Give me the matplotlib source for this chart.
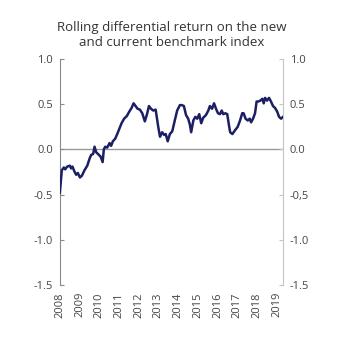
import matplotlib
matplotlib.use("Agg")
import matplotlib.pyplot as plt

plt.rcParams['font.family'] = ['Open Sans', 'DejaVu Sans']

# rolling differential return, decimal years
years = [2008.00, 2008.05, 2008.10, 2008.20, 2008.27, 2008.37, 2008.51, 2008.57,
         2008.64, 2008.75, 2008.83, 2008.91, 2009.02, 2009.12, 2009.25, 2009.39,
         2009.51, 2009.59, 2009.69, 2009.76, 2009.84, 2009.93, 2010.07, 2010.17,
         2010.23, 2010.30, 2010.40, 2010.52, 2010.60, 2010.69, 2010.81, 2010.91,
         2011.13, 2011.26, 2011.40, 2011.50, 2011.64, 2011.74, 2011.84, 2011.94,
         2012.06, 2012.18, 2012.31, 2012.42, 2012.52, 2012.62, 2012.74, 2012.86,
         2012.99, 2013.08, 2013.19, 2013.29, 2013.37, 2013.47, 2013.58, 2013.70,
         2013.84, 2013.95, 2014.09, 2014.19, 2014.29, 2014.40, 2014.51, 2014.60,
         2014.66, 2014.77, 2014.87, 2014.97, 2015.07, 2015.17, 2015.27, 2015.41,
         2015.53, 2015.61, 2015.72, 2015.82, 2015.92, 2016.02, 2016.12, 2016.21,
         2016.29, 2016.39, 2016.49, 2016.59, 2016.64, 2016.75, 2016.88, 2017.02,
         2017.14, 2017.25, 2017.32, 2017.42, 2017.53, 2017.63, 2017.70, 2017.80,
         2017.90, 2017.98, 2018.07, 2018.17, 2018.27, 2018.34, 2018.41, 2018.51,
         2018.61, 2018.71, 2018.81, 2018.91, 2019.02, 2019.12, 2019.22, 2019.32]
diff_return = [-0.48, -0.35, -0.23, -0.20, -0.22, -0.19, -0.18, -0.21,
               -0.19, -0.25, -0.28, -0.26, -0.31, -0.29, -0.23, -0.18,
               -0.10, -0.06, -0.05, 0.03, -0.03, -0.05, -0.08, -0.14,
               0.00, 0.03, 0.02, 0.07, 0.04, 0.09, 0.12, 0.17,
               0.29, 0.34, 0.37, 0.41, 0.46, 0.51, 0.48, 0.45,
               0.44, 0.40, 0.31, 0.39, 0.48, 0.45, 0.43, 0.44,
               0.25, 0.14, 0.19, 0.16, 0.17, 0.09, 0.17, 0.20,
               0.33, 0.43, 0.49, 0.49, 0.48, 0.38, 0.34, 0.27,
               0.19, 0.32, 0.36, 0.34, 0.39, 0.29, 0.35, 0.38,
               0.43, 0.48, 0.45, 0.51, 0.45, 0.40, 0.39, 0.43,
               0.39, 0.40, 0.39, 0.25, 0.19, 0.17, 0.21, 0.25,
               0.32, 0.40, 0.40, 0.34, 0.32, 0.34, 0.30, 0.34,
               0.40, 0.53, 0.53, 0.54, 0.56, 0.51, 0.57, 0.54,
               0.57, 0.53, 0.48, 0.46, 0.42, 0.36, 0.34, 0.36]

year_ticks = list(range(2008, 2020))
y_ticks = [1.0, 0.5, 0.0, -0.5, -1.0, -1.5]
left_labels = ["1.0", "0.5", "0.0", "-0.5", "-1.0", "-1.5"]
right_labels = ["1.0", "0.5", "0.0", "-0,5", "-1.0", "-1.5"]

fig = plt.figure(figsize=(3.46, 3.41), dpi=100)
ax = fig.add_axes([0.173, 0.164, 0.645, 0.663])

ax.axhline(0, color="#9a9a9a", lw=1.0, zorder=1)
ax.plot(years, diff_return, color="#1c1f63", lw=1.8, zorder=3)

ax.set_xlim(2008.0, 2019.32)
ax.set_ylim(-1.5, 1.0)

for s in ["top", "bottom"]:
    ax.spines[s].set_visible(False)
ax.spines["left"].set_color("#8a8a8a")
ax.spines["right"].set_color("#c4c4c4")

ax.set_yticks(y_ticks)
ax.set_yticklabels(left_labels)
ax.tick_params(axis="y", direction="in", length=3, color="#8a8a8a",
               labelsize=8, labelcolor="#444444", pad=5)

ax2 = ax.twinx()
ax2.set_ylim(ax.get_ylim())
ax2.set_yticks(y_ticks)
ax2.set_yticklabels(right_labels)
for s in ["top", "bottom", "left", "right"]:
    ax2.spines[s].set_visible(False)
ax2.tick_params(axis="y", direction="in", length=3, color="#c4c4c4",
                labelsize=8, labelcolor="#444444", pad=5)

ax.set_xticks(year_ticks)
ax.set_xticklabels([str(y) for y in year_ticks], rotation=90)
ax.tick_params(axis="x", length=0, labelsize=8, labelcolor="#444444", pad=5)

fig.text(0.497, 0.897, "Rolling differential return on the new\nand current benchmark index",
         ha="center", va="center", fontsize=9.5, color="#333333", linespacing=1.2)

fig.savefig("out.png", dpi=100)
